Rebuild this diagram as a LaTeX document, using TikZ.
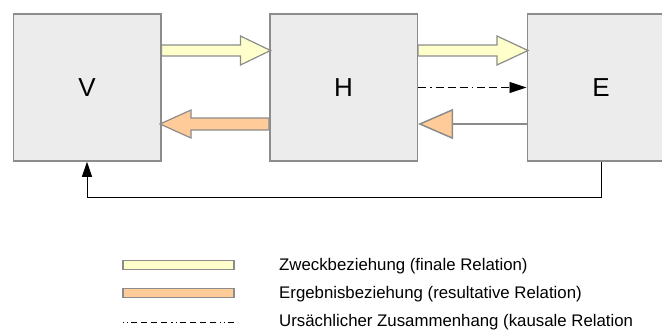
\documentclass[tikz,border=0pt]{standalone}
\usepackage{fontspec}
\setmainfont{Liberation Sans}
\usetikzlibrary{arrows.meta}
\definecolor{boxgray}{RGB}{236,236,236}
\definecolor{rimgray}{RGB}{140,140,140}
\definecolor{zweck}{RGB}{255,255,204}
\definecolor{ergebnis}{RGB}{255,204,153}

\begin{document}
\begin{tikzpicture}[x=1pt,y=-1pt,
    phase/.style={draw=rimgray,line width=1.5pt,fill=boxgray,minimum width=147.5pt,
      minimum height=147pt,inner sep=0pt,font=\fontsize{26}{30}\selectfont},
    fat/.style={draw=rimgray,line width=1.2pt,line join=miter},
    kausal/.style={line width=0.8pt,dash pattern=on 8pt off 4pt on 1.5pt off 4pt on 8pt off 4pt on 8pt off 4pt},
    legbar/.style={draw=rimgray,line width=1.2pt,minimum width=111pt,minimum height=9pt,inner sep=0pt},
    legtext/.style={anchor=west,inner sep=0pt,font=\fontsize{16.8}{20}\selectfont}]
  \useasboundingbox (0,0) rectangle (662,333);
  \node[phase] (V) at (87,87.5) {V};
  \node[phase] (H) at (343.5,87.5) {H};
  \node[phase] (E) at (601,87.5) {E};
  % zweck: V -> H, H -> E
  \draw[fat,fill=zweck] (V.east) ++(0,-42.5) -- ++(79,0) -- ++(0,-9) -- ++(30,14.5)
    -- ++(-30,14.5) -- ++(0,-9) -- ++(-79,0) -- cycle;
  \draw[fat,fill=zweck] (H.east) ++(0,-42.5) -- ++(79,0) -- ++(0,-9) -- ++(31,14.5)
    -- ++(-31,14.5) -- ++(0,-9) -- ++(-79,0) -- cycle;
  % ergebnis: H -> V
  \draw[fat,fill=ergebnis] (H.west) ++(0,30.5) -- ++(-78,0) -- ++(0,-8) -- ++(-31,14)
    -- ++(31,14) -- ++(0,-8) -- ++(78,0) -- cycle;
  \draw[rimgray,line width=1.5pt,-{Triangle[length=35pt,width=30pt,fill=ergebnis]}]
    ([yshift=-36.5pt]E.west) -- ([yshift=-36.5pt]H.east);
  \draw[kausal,-{Triangle[length=17pt,width=11pt,sep=0pt]}] (H.east) -- (E.west);
  % rueckkopplung E -> V
  \draw[line width=1pt,-{Triangle[length=15pt,width=10pt]}] (E.south) -- ++(0,36) -| (V.south);
  % legende
  \node[legbar,fill=zweck] (lz) at (178.5,265) {};
  \node[legbar,fill=ergebnis] (le) at (178.5,293) {};
  \coordinate (lk) at (123,322);
  \draw[line width=0.8pt,dash pattern=on 1.2pt off 3pt on 1.2pt off 3pt on 6pt off 4pt on 6pt off 4pt on 6pt off 4pt on 6pt off 4pt]
    (lk) -- ++(111,0);
  \node[legtext] (tz) at (279,266) {Zweckbeziehung (finale Relation)};
  \node[legtext] (te) at (279,294) {Ergebnisbeziehung (resultative Relation)};
  \node[legtext] (tk) at (279,322) {Ursächlicher Zusammenhang (kausale Relation};
\end{tikzpicture}
\end{document}
